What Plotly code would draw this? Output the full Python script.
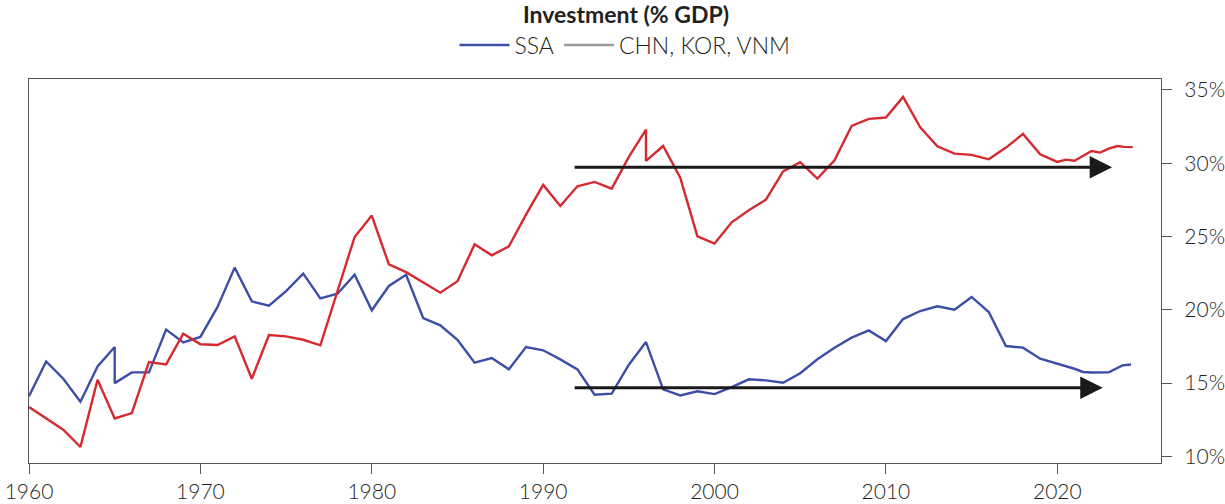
import plotly.graph_objects as go

# ---- data ----
ssa_years = [1960, 1961, 1962, 1963, 1964, 1965, 1965, 1966, 1967, 1968, 1969,
             1970, 1971, 1972, 1973, 1974, 1975, 1976, 1977, 1978, 1979,
             1980, 1981, 1982, 1983, 1984, 1985, 1986, 1987, 1988, 1989,
             1990, 1991, 1992, 1993, 1994, 1995, 1996, 1997, 1998, 1999,
             2000, 2001, 2002, 2003, 2004, 2005, 2006, 2007, 2008, 2009,
             2010, 2011, 2012, 2013, 2014, 2015, 2016, 2017, 2018, 2019,
             2020, 2021, 2021.5, 2022, 2023, 2023.4, 2023.8, 2024.3]
ssa_values = [14.1, 16.48, 15.3, 13.73, 16.14, 17.46, 15.0, 15.73, 15.73, 18.65, 17.78,
              18.15, 20.2, 22.88, 20.58, 20.28, 21.28, 22.47, 20.78, 21.1, 22.4,
              19.97, 21.63, 22.39, 19.44, 18.94, 17.96, 16.39, 16.71, 15.94, 17.46,
              17.24, 16.62, 15.94, 14.21, 14.28, 16.26, 17.8, 14.57, 14.16, 14.44,
              14.25, 14.73, 15.26, 15.19, 15.03, 15.67, 16.63, 17.42, 18.1, 18.6,
              17.87, 19.37, 19.92, 20.24, 20.01, 20.88, 19.85, 17.53, 17.42, 16.67,
              16.33, 15.98, 15.76, 15.72, 15.74, 15.95, 16.21, 16.27]

asia_years = [1960, 1961, 1962, 1963, 1964, 1965, 1966, 1967, 1968, 1969,
              1970, 1971, 1972, 1973, 1974, 1975, 1976, 1977, 1978, 1979,
              1980, 1981, 1982, 1983, 1984, 1985, 1986, 1987, 1988, 1989,
              1990, 1991, 1992, 1993, 1994, 1995, 1996, 1996, 1997, 1998, 1999,
              2000, 2001, 2002, 2003, 2004, 2005, 2006, 2007, 2008, 2009,
              2010, 2011, 2012, 2013, 2014, 2015, 2016, 2017, 2018, 2019,
              2020, 2020.5, 2021, 2022, 2022.5, 2023, 2023.5, 2023.9, 2024.4]
asia_values = [13.37, 12.6, 11.82, 10.64, 15.23, 12.59, 12.96, 16.44, 16.28, 18.37,
               17.65, 17.6, 18.19, 15.3, 18.28, 18.19, 17.96, 17.58, 21.2, 24.97,
               26.43, 23.1, 22.57, 21.85, 21.17, 21.95, 24.47, 23.72, 24.33, 26.5,
               28.52, 27.09, 28.43, 28.73, 28.27, 30.43, 32.3, 30.16, 31.18, 29.02, 25.02,
               24.52, 25.97, 26.79, 27.52, 29.45, 30.08, 28.96, 30.2, 32.55, 33.03,
               33.12, 34.53, 32.46, 31.16, 30.66, 30.57, 30.27, 31.07, 32.0, 30.61,
               30.09, 30.25, 30.17, 30.84, 30.73, 31.0, 31.18, 31.12, 31.1]

# reference arrows: (start year, end year, level %)
arrow_starts = [1991.75, 1991.75]
arrow_ends = [2023.2, 2022.65]
arrow_levels = [29.73, 14.69]

x_ticks = [1960, 1970, 1980, 1990, 2000, 2010, 2020]
y_ticks = [10, 15, 20, 25, 30, 35]
y_tick_labels = ["10%", "15%", "20%", "25%", "30%", "35%"]

title_text = "Investment (% GDP)"
series_names = ["SSA", "CHN, KOR, VNM"]

BLUE = "#3b4fa6"
RED = "#d52a30"
GREY = "#9a9a9a"
TEXT = "#231f20"
AXIS = "#555555"
FONT = "Lato, 'Open Sans', sans-serif"

fig = go.Figure()
fig.add_trace(go.Scatter(x=ssa_years, y=ssa_values, mode="lines", name=series_names[0],
                         line=dict(color=BLUE, width=2.4)))
fig.add_trace(go.Scatter(x=asia_years, y=asia_values, mode="lines", name=series_names[1],
                         line=dict(color=RED, width=2.4), showlegend=False))
# legend entry shows grey, as in the original
fig.add_trace(go.Scatter(x=[None], y=[None], mode="lines", name=series_names[1],
                         line=dict(color=GREY, width=2.4)))

for xs, xe, lv in zip(arrow_starts, arrow_ends, arrow_levels):
    fig.add_annotation(x=xe, y=lv, ax=xs, ay=lv, xref="x", yref="y", axref="x", ayref="y",
                       text="", showarrow=True, arrowhead=2, arrowsize=1.5, arrowwidth=3,
                       arrowcolor="#1a1a1a", standoff=0)

fig.update_layout(
    width=1225, height=504,
    margin=dict(l=29, r=64, t=79, b=41, autoexpand=False),
    paper_bgcolor="white", plot_bgcolor="white",
    font=dict(family=FONT, color=TEXT, size=20),
    title=dict(text="<b>" + title_text + "</b>", x=626 / 1225, xanchor="center",
               y=1 - 15 / 504, yanchor="middle", yref="container",
               font=dict(family=FONT, size=23, color=TEXT)),
    legend=dict(orientation="h", x=625 / 1225, xanchor="center", xref="container",
                y=1 - 45 / 504, yanchor="middle", yref="container",
                font=dict(family=FONT, size=23, color=TEXT, weight=300),
                itemwidth=50, traceorder="normal", bgcolor="rgba(0,0,0,0)"),
    showlegend=True,
)

fig.update_xaxes(range=[1960, 2026.05], tickvals=x_ticks, ticks="outside", ticklen=10,
                 tickcolor=AXIS, tickwidth=1.3, showline=True, linecolor=AXIS, linewidth=1.3,
                 mirror=True, showgrid=False, zeroline=False, automargin=False,
                 tickfont=dict(family=FONT, size=21, color=TEXT, weight=300))
fig.update_yaxes(range=[9.55, 35.75], tickvals=y_ticks, ticktext=y_tick_labels, side="right",
                 ticks="outside", ticklen=10, tickcolor=AXIS, tickwidth=1.3,
                 showline=True, linecolor=AXIS, linewidth=1.3, mirror=True,
                 showgrid=False, zeroline=False, ticklabelstandoff=8, automargin=False,
                 tickfont=dict(family=FONT, size=21, color=TEXT, weight=300))

fig.write_html("out.html", config={"displayModeBar": False},
               post_script="document.body.style.margin='0';document.body.style.padding='0';"
                           "document.body.style.overflow='hidden';")
